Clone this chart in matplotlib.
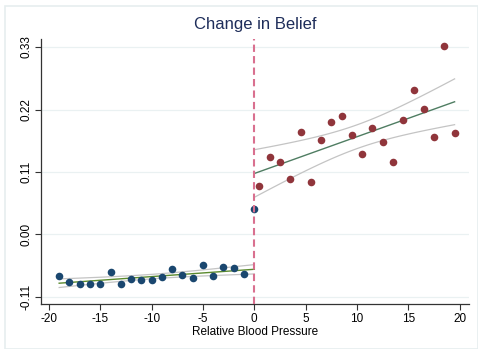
import numpy as np
import matplotlib

matplotlib.use("Agg")
import matplotlib.pyplot as plt

plt.rcParams["font.family"] = ["Liberation Sans", "DejaVu Sans"]

# binned means left of the cutoff
left_x = [-19, -18, -17, -16, -15, -14, -13, -12, -11, -10,
          -9, -8, -7, -6, -5, -4, -3, -2, -1]
left_y = [-0.073, -0.084, -0.0875, -0.087, -0.0875, -0.066, -0.0875, -0.079, -0.081, -0.080,
          -0.075, -0.060, -0.072, -0.076, -0.054, -0.073, -0.058, -0.059, -0.070]
cut_x = [0]
cut_y = [0.044]

# binned means right of the cutoff
right_x = [0.5, 1.5, 2.5, 3.5, 4.5, 5.5, 6.5, 7.5, 8.5, 9.5,
           10.5, 11.5, 12.5, 13.5, 14.5, 15.5, 16.5, 17.5, 18.5, 19.5]
right_y = [0.085, 0.136, 0.127, 0.097, 0.180, 0.093, 0.166, 0.198, 0.209, 0.175,
           0.141, 0.187, 0.162, 0.128, 0.202, 0.255, 0.221, 0.171, 0.331, 0.178]

yticks = [-0.11, 0.00, 0.11, 0.22, 0.33]
xticks = [-20, -15, -10, -5, 0, 5, 10, 15, 20]


def fit_ci(x, y, lo, hi, t=2.1):
    x = np.asarray(x, float)
    y = np.asarray(y, float)
    b, a = np.polyfit(x, y, 1)
    n = len(x)
    resid = y - (a + b * x)
    s = np.sqrt(np.sum(resid ** 2) / (n - 2))
    xx = np.linspace(lo, hi, 100)
    yy = a + b * xx
    se = s * np.sqrt(1 / n + (xx - x.mean()) ** 2 / np.sum((x - x.mean()) ** 2))
    return xx, yy, yy - t * se, yy + t * se


fig = plt.figure(figsize=(4.78, 3.49), dpi=100)
fig.patch.set_facecolor("white")
fig.patches.append(plt.Rectangle((0.011, 0.0), 0.989, 0.983, transform=fig.transFigure,
                                 fill=False, edgecolor="#e6eeef", linewidth=1.2))
ax = fig.add_axes([0.0851, 0.128, 0.896, 0.76])

for yt in yticks:
    ax.axhline(yt, color="#eaf1f2", linewidth=0.9, zorder=0)

lx, ly, llo, lhi = fit_ci(left_x, left_y, -19, 0)
rx, ry, rlo, rhi = fit_ci(right_x, right_y, 0, 19.5)
for xx, lo, hi in [(lx, llo, lhi), (rx, rlo, rhi)]:
    ax.plot(xx, lo, color="#c4c4c4", linewidth=0.9, zorder=2)
    ax.plot(xx, hi, color="#c4c4c4", linewidth=0.9, zorder=2)
ax.plot(lx, ly, color="#5b8a2e", linewidth=1.0, zorder=3)
ax.plot(rx, ry, color="#4f7d62", linewidth=1.0, zorder=3)

ax.scatter(left_x + cut_x, left_y + cut_y, s=30, color="#1a476f", zorder=4, linewidths=0)
ax.scatter(right_x, right_y, s=30, color="#90353b", zorder=4, linewidths=0)

ax.axvline(0, color="#d9708f", linewidth=1.5, linestyle=(0, (3.5, 2)), zorder=5)

ax.set_xlim(-20.8, 20.9)
ax.set_ylim(-0.123, 0.344)
ax.set_xticks(xticks)
ax.set_xticklabels([str(v) for v in xticks])
ax.set_yticks(yticks)
ax.set_yticklabels([f"{v:.2f}" for v in yticks], rotation=90, va="center")
ax.tick_params(axis="both", labelsize=8.5, length=4, width=0.8, color="#333333", pad=2)
for side in ["top", "right"]:
    ax.spines[side].set_visible(False)
for side in ["left", "bottom"]:
    ax.spines[side].set_color("#333333")
    ax.spines[side].set_linewidth(0.9)
ax.set_xlabel("Relative Blood Pressure", fontsize=8.5, labelpad=1)
ax.set_title("Change in Belief", fontsize=12, color="#1e2d5a", pad=7)

fig.savefig("out.png", dpi=100)
